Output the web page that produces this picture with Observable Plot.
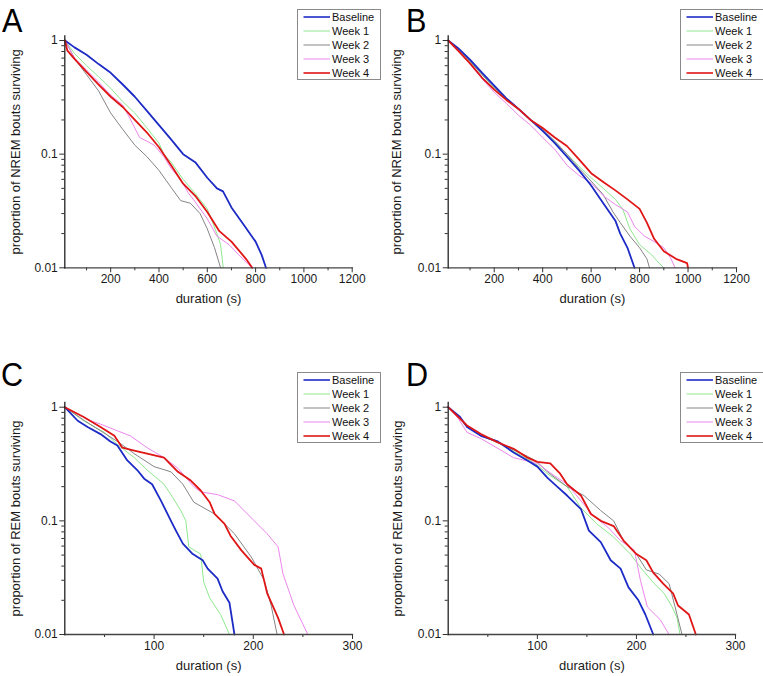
<!DOCTYPE html>
<html><head><meta charset="utf-8">
<script src="https://cdn.jsdelivr.net/npm/d3@7"></script>
<script src="https://cdn.jsdelivr.net/npm/@observablehq/plot@0.6"></script>
<style>
body{margin:0;background:#fff;}
#root{position:relative;width:763px;height:676px;overflow:hidden;font-family:"Liberation Sans",Arial,sans-serif;background:#fff;}
.panel{position:absolute;left:0;top:0;}
.letter{position:absolute;font-size:34px;line-height:1;transform-origin:left top;transform:scaleX(0.9);color:#000;font-family:"Liberation Sans",Arial,sans-serif;}
.legend{position:absolute;}
</style></head><body><div id="root"></div>
<script>
// ---------- data ----------
const seriesNames = ["Baseline", "Week 1", "Week 2", "Week 3", "Week 4"];
const panelLetters = ["A", "B", "C", "D"];
const xTitle = "duration (s)";
const yTitleNREM = "proportion of NREM bouts surviving";
const yTitleREM = "proportion of REM bouts surviving";
const yMajorTicks = [0.01, 0.1, 1];
const yMinorTicks = [0.02,0.03,0.04,0.05,0.06,0.07,0.08,0.09,0.2,0.3,0.4,0.5,0.6,0.7,0.8,0.9];
const xMajorNREM = [200, 400, 600, 800, 1000, 1200];
const xMinorNREM = [100, 300, 500, 700, 900, 1100];
const xMajorREM = [100, 200, 300];
const xMinorREM = [50, 150, 250];

// Panel A (NREM)
const A_baseline = [[11,1],[50,0.87],[100,0.75],[150,0.62],[200,0.52],[250,0.41],[300,0.32],[350,0.24],[400,0.18],[450,0.135],[500,0.1],[550,0.085],[600,0.062],[640,0.05],[665,0.047],[700,0.034],[750,0.024],[800,0.017],[825,0.013],[843,0.01]];
const A_week1 = [[11,1],[50,0.77],[100,0.6],[150,0.48],[200,0.38],[250,0.29],[300,0.23],[350,0.17],[400,0.125],[420,0.1],[450,0.085],[500,0.06],[550,0.045],[600,0.033],[640,0.02],[655,0.016],[666,0.01]];
const A_week2 = [[11,1],[50,0.7],[100,0.5],[150,0.36],[200,0.23],[250,0.165],[300,0.12],[350,0.095],[400,0.072],[450,0.051],[490,0.039],[530,0.037],[570,0.03],[600,0.022],[630,0.015],[655,0.01]];
const A_week3 = [[11,1],[50,0.7],[100,0.55],[150,0.43],[200,0.33],[250,0.27],[283,0.2],[320,0.14],[350,0.13],[380,0.12],[420,0.095],[450,0.075],[490,0.06],[520,0.046],[550,0.038],[600,0.027],[640,0.019],[690,0.016],[730,0.013],[786,0.01]];
const A_week4 = [[11,1],[20,0.82],[50,0.69],[100,0.53],[150,0.41],[200,0.32],[250,0.26],[300,0.2],[350,0.155],[400,0.115],[450,0.08],[500,0.055],[550,0.043],[600,0.031],[650,0.021],[700,0.017],[760,0.012],[786,0.01]];

// Panel B (NREM)
const B_baseline = [[10,1],[50,0.86],[100,0.68],[150,0.52],[200,0.4],[250,0.31],[300,0.25],[350,0.2],[400,0.16],[450,0.125],[500,0.095],[550,0.072],[600,0.053],[650,0.037],[700,0.026],[720,0.02],[750,0.015],[779,0.01]];
const B_week1 = [[10,1],[50,0.84],[100,0.65],[150,0.5],[200,0.38],[250,0.31],[300,0.25],[350,0.2],[400,0.16],[450,0.13],[500,0.1],[550,0.078],[600,0.062],[650,0.05],[700,0.04],[730,0.033],[760,0.022],[800,0.016],[850,0.013],[880,0.011],[900,0.01]];
const B_week2 = [[10,1],[50,0.85],[100,0.66],[150,0.5],[200,0.39],[250,0.3],[300,0.25],[350,0.2],[400,0.165],[450,0.13],[500,0.1],[550,0.075],[600,0.058],[650,0.044],[690,0.031],[720,0.025],[760,0.019],[800,0.015],[830,0.012],[841,0.01]];
const B_week3 = [[10,1],[50,0.82],[100,0.62],[150,0.46],[200,0.35],[250,0.28],[300,0.22],[350,0.18],[400,0.14],[450,0.11],[500,0.08],[550,0.065],[600,0.056],[650,0.043],[700,0.036],[750,0.031],[780,0.023],[820,0.019],[860,0.017],[900,0.015],[930,0.012],[946,0.01]];
const B_week4 = [[10,1],[50,0.82],[100,0.63],[150,0.47],[200,0.37],[250,0.3],[300,0.25],[350,0.2],[400,0.17],[450,0.14],[500,0.118],[550,0.09],[600,0.068],[650,0.057],[700,0.048],[750,0.04],[800,0.033],[830,0.025],[860,0.018],[900,0.014],[950,0.012],[996,0.011],[1000,0.01]];

// Panel C (REM)
const C_baseline = [[10,1],[23,0.76],[33,0.67],[46,0.58],[56,0.5],[63,0.46],[73,0.34],[83,0.28],[90,0.235],[98,0.21],[107,0.15],[117,0.1],[122,0.082],[129,0.063],[139,0.051],[149,0.045],[154,0.038],[164,0.031],[169,0.024],[176,0.019],[181,0.01]];
const C_week1 = [[10,1],[30,0.75],[50,0.6],[63,0.47],[80,0.36],[93,0.28],[110,0.21],[117,0.17],[127,0.123],[132,0.1],[135,0.059],[147,0.051],[150,0.029],[156,0.021],[167,0.015],[176,0.01]];
const C_week2 = [[10,1],[30,0.76],[46,0.62],[63,0.5],[80,0.39],[100,0.3],[117,0.27],[129,0.21],[140,0.146],[161,0.115],[181,0.077],[198,0.048],[211,0.03],[218,0.018],[224,0.01]];
const C_week3 = [[10,1],[36,0.76],[46,0.71],[63,0.62],[76,0.56],[93,0.44],[110,0.36],[124,0.29],[140,0.2],[147,0.18],[164,0.17],[181,0.15],[201,0.1],[214,0.077],[225,0.059],[230,0.034],[241,0.018],[255,0.01]];
const C_week4 = [[10,1],[29,0.82],[46,0.67],[60,0.56],[68,0.44],[80,0.415],[93,0.39],[110,0.36],[124,0.27],[137,0.226],[147,0.185],[156,0.146],[161,0.115],[171,0.094],[177,0.074],[188,0.055],[201,0.041],[208,0.038],[214,0.023],[225,0.014],[231,0.01]];

// Panel D (REM)
const D_baseline = [[10,1],[22,0.82],[29,0.67],[43,0.56],[60,0.5],[76,0.4],[90,0.34],[100,0.3],[110,0.24],[120,0.2],[130,0.167],[144,0.127],[152,0.082],[164,0.065],[174,0.045],[184,0.038],[192,0.026],[202,0.02],[209,0.015],[217,0.01]];
const D_week1 = [[10,1],[22,0.8],[29,0.67],[43,0.56],[60,0.49],[76,0.41],[90,0.35],[100,0.31],[110,0.26],[130,0.2],[144,0.13],[160,0.094],[177,0.072],[194,0.051],[204,0.039],[218,0.028],[228,0.023],[236,0.0175],[241,0.014],[244,0.01]];
const D_week2 = [[10,1],[22,0.8],[29,0.67],[43,0.56],[60,0.49],[76,0.42],[90,0.37],[100,0.33],[110,0.27],[130,0.2],[147,0.167],[164,0.123],[177,0.1],[187,0.067],[200,0.051],[210,0.037],[223,0.034],[233,0.028],[239,0.0175],[246,0.01]];
const D_week3 = [[10,1],[20,0.8],[29,0.6],[43,0.53],[76,0.36],[100,0.32],[117,0.25],[130,0.21],[144,0.15],[157,0.11],[171,0.088],[184,0.067],[198,0.055],[204,0.03],[211,0.0175],[224,0.0135],[233,0.01]];
const D_week4 = [[10,1],[29,0.69],[43,0.58],[60,0.49],[76,0.43],[90,0.36],[100,0.33],[113,0.32],[123,0.26],[130,0.21],[144,0.167],[154,0.115],[164,0.1],[177,0.09],[187,0.067],[200,0.051],[210,0.045],[217,0.035],[227,0.028],[237,0.023],[242,0.018],[253,0.015],[260,0.01]];

// ---------- styles ----------
const seriesColor = {"Baseline":"#1d2bc6","Week 1":"#8fe88f","Week 2":"#858585","Week 3":"#ec86ec","Week 4":"#e01515"};
const seriesWidth = {"Baseline":1.8,"Week 1":1,"Week 2":1,"Week 3":1,"Week 4":1.8};
const drawOrder = ["Week 1","Week 2","Week 3","Baseline","Week 4"];

const panels = [
  {letter: panelLetters[0], series:[A_baseline,A_week1,A_week2,A_week3,A_week4], yTitle: yTitleNREM, xDomain:[10,1200], xMajor:xMajorNREM, xMinor:xMinorNREM,
   left:0, top:0, width:380, height:320, mL:64.3, mR:28.3, mT:35.3, mB:52.7, yTitleDx:-49,
   letterPos:[2,2.5], legend:[297,9]},
  {letter: panelLetters[1], series:[B_baseline,B_week1,B_week2,B_week3,B_week4], yTitle: yTitleNREM, xDomain:[10,1200], xMajor:xMajorNREM, xMinor:xMinorNREM,
   left:380, top:0, width:383, height:320, mL:67.7, mR:27, mT:35.3, mB:52.7, yTitleDx:-51,
   letterPos:[406,2.5], legend:[680,9]},
  {letter: panelLetters[2], series:[C_baseline,C_week1,C_week2,C_week3,C_week4], yTitle: yTitleREM, xDomain:[10,300], xMajor:xMajorREM, xMinor:xMinorREM,
   left:0, top:320, width:380, height:356, mL:64.3, mR:28, mT:82, mB:42, yTitleDx:-49,
   letterPos:[1,357], legend:[297,372]},
  {letter: panelLetters[3], series:[D_baseline,D_week1,D_week2,D_week3,D_week4], yTitle: yTitleREM, xDomain:[10,300], xMajor:xMajorREM, xMinor:xMinorREM,
   left:380, top:320, width:383, height:356, mL:67.7, mR:28, mT:82, mB:42, yTitleDx:-50,
   letterPos:[406,357], legend:[680,372]}
];

const root = document.getElementById("root");
const FONT = "'Liberation Sans', Arial, sans-serif";
const numFmt = d => String(d);

for (const p of panels) {
  const rows = [];
  p.series.forEach((pts, i) => pts.forEach(([x, y]) => rows.push({x, y, s: seriesNames[i]})));
  const lineMarks = drawOrder.map(name => Plot.line(rows.filter(d => d.s === name), {
    x: "x", y: "y", stroke: seriesColor[name], strokeWidth: seriesWidth[name], strokeLinejoin: "round"
  }));
  const chart = Plot.plot({
    width: p.width, height: p.height,
    marginLeft: p.mL, marginRight: p.mR, marginTop: p.mT, marginBottom: p.mB,
    style: {fontFamily: FONT, fontSize: "12px", color: "#1a1a1a", background: "transparent", overflow: "visible"},
    x: {type: "linear", domain: p.xDomain},
    y: {type: "log", domain: [0.01, 1.1]},
    marks: [
      ...lineMarks,
      Plot.axisX({ticks: p.xMajor, tickSize: 5, tickPadding: 2, tickFormat: numFmt, label: null, fontSize: 12, stroke: "#333"}),
      Plot.axisX({ticks: p.xMinor, tickSize: 3, tickFormat: () => "", label: null, stroke: "#333"}),
      Plot.axisY({ticks: yMajorTicks, tickSize: 5, tickPadding: 2, tickFormat: numFmt, label: null, fontSize: 12, stroke: "#333"}),
      Plot.axisY({ticks: yMinorTicks, tickSize: 3, tickFormat: () => "", label: null, stroke: "#333"}),
      Plot.frame({anchor: "bottom", stroke: "#444", strokeWidth: 1.3}),
      Plot.frame({anchor: "left", stroke: "#222", strokeWidth: 1.3}),
      Plot.text([xTitle], {frameAnchor: "bottom", dy: 35, fontSize: 13, fill: "#1a1a1a"}),
      Plot.text([p.yTitle], {frameAnchor: "left", textAnchor: "middle", dx: p.yTitleDx, rotate: -90, fontSize: 13, fill: "#1a1a1a"})
    ]
  });
  chart.classList.add("panel");
  chart.style.left = p.left + "px";
  chart.style.top = p.top + "px";
  chart.style.position = "absolute";
  root.appendChild(chart);

  const letter = document.createElement("div");
  letter.className = "letter";
  letter.textContent = p.letter;
  letter.style.left = p.letterPos[0] + "px";
  letter.style.top = p.letterPos[1] + "px";
  root.appendChild(letter);

  // legend box
  const lw = 83, lh = 70;
  const svg = d3.create("svg").attr("width", lw + 2).attr("height", lh + 2)
    .attr("class", "legend")
    .style("left", (p.legend[0] - 0.5) + "px").style("top", (p.legend[1] - 0.5) + "px");
  svg.append("rect").attr("x", 0.5).attr("y", 0.5).attr("width", lw).attr("height", lh)
    .attr("fill", "#fff").attr("stroke", "#8a8a8a").attr("stroke-width", 1);
  seriesNames.forEach((name, i) => {
    const cy = 8 + i * 14;
    svg.append("line").attr("x1", 6.5).attr("x2", 33).attr("y1", cy).attr("y2", cy)
      .attr("stroke", seriesColor[name]).attr("stroke-width", seriesWidth[name] === 1 ? 1 : 1.6);
    svg.append("text").attr("x", 35).attr("y", cy).attr("dy", "0.35em")
      .attr("font-family", FONT).attr("font-size", 11).attr("fill", "#111").text(name);
  });
  root.appendChild(svg.node());
}
</script></body></html>
